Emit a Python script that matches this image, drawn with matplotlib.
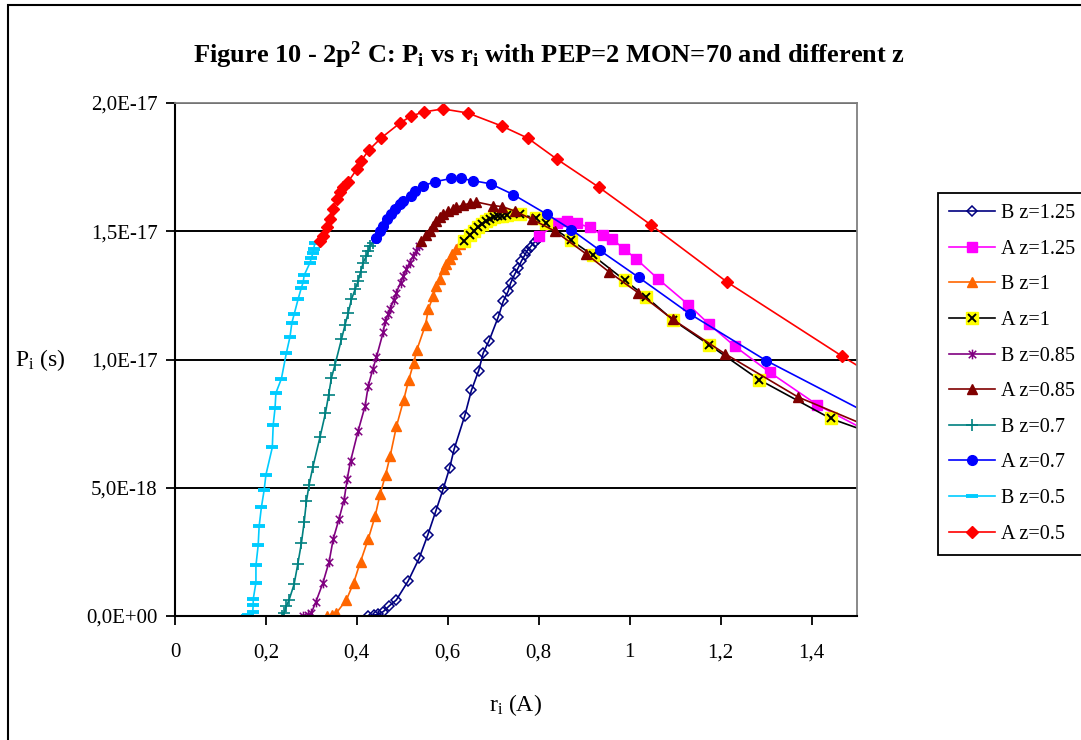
import matplotlib
matplotlib.use("Agg")
import matplotlib.pyplot as plt
from matplotlib.path import Path
from matplotlib.patches import Rectangle
from matplotlib.legend_handler import HandlerTuple

plt.rcParams['font.family'] = 'Liberation Serif'
plt.rcParams['mathtext.fontset'] = 'custom'
plt.rcParams['mathtext.rm'] = 'Liberation Serif'
plt.rcParams['mathtext.it'] = 'Liberation Serif:italic'
plt.rcParams['mathtext.bf'] = 'Liberation Serif:bold'

# P values in units of 1e-18 s, r in A
b125_r = [0.425, 0.437, 0.447, 0.458, 0.471, 0.487, 0.513, 0.537, 0.556, 0.574, 0.590, 0.604, 0.614, 0.637, 0.652,
          0.668, 0.678, 0.691, 0.711, 0.722, 0.733, 0.738, 0.747, 0.755, 0.762, 0.769, 0.774, 0.782, 0.791, 0.798]
b125_p = [0.0, 0.03, 0.07, 0.17, 0.39, 0.63, 1.37, 2.25, 3.16, 4.11, 4.96, 5.77, 6.51, 7.79, 8.80,
          9.57, 10.26, 10.74, 11.66, 12.27, 12.67, 12.97, 13.32, 13.58, 13.84, 14.06, 14.23, 14.40, 14.58, 14.71]

a125_r = [0.801, 0.840, 0.862, 0.884, 0.912, 0.941, 0.962, 0.987, 1.015, 1.062, 1.129, 1.175, 1.231, 1.308, 1.412, 1.62]
a125_p = [14.80, 15.33, 15.39, 15.31, 15.15, 14.84, 14.69, 14.32, 13.91, 13.15, 12.14, 11.37, 10.52, 9.50, 8.24, 6.3]

b1_r = [0.334, 0.345, 0.355, 0.377, 0.393, 0.408, 0.425, 0.440, 0.451, 0.463, 0.473, 0.487, 0.503, 0.514,
        0.525, 0.532, 0.551, 0.557, 0.568, 0.575, 0.582, 0.591, 0.597, 0.604, 0.610, 0.618, 0.626, 0.635]
b1_p = [0.0, 0.02, 0.12, 0.63, 1.30, 2.12, 3.00, 3.88, 4.74, 5.49, 6.22, 7.39, 8.43, 9.20,
        9.87, 10.38, 11.35, 11.95, 12.47, 12.86, 13.12, 13.52, 13.71, 13.91, 14.10, 14.30, 14.49, 14.65]

a1_r = [0.636, 0.648, 0.657, 0.666, 0.675, 0.684, 0.692, 0.701, 0.710, 0.719, 0.730, 0.758, 0.795, 0.817,
        0.872, 0.919, 0.989, 1.037, 1.095, 1.175, 1.284, 1.442, 1.60]
a1_p = [14.62, 14.84, 15.00, 15.16, 15.27, 15.39, 15.47, 15.55, 15.59, 15.61, 15.63, 15.66, 15.51, 15.31,
        14.64, 14.06, 13.09, 12.43, 11.54, 10.57, 9.22, 7.70, 6.7]

b085_r = [0.281, 0.292, 0.300, 0.310, 0.325, 0.339, 0.348, 0.361, 0.372, 0.379, 0.386, 0.403, 0.418, 0.425, 0.435,
          0.443, 0.458, 0.462, 0.469, 0.473, 0.481, 0.487, 0.496, 0.502, 0.509, 0.516, 0.524, 0.530, 0.537]
b085_p = [0.0, 0.02, 0.12, 0.56, 1.27, 2.12, 3.00, 3.80, 4.54, 5.36, 6.03, 7.23, 8.18, 8.97, 9.62,
          10.09, 11.07, 11.50, 11.76, 11.95, 12.32, 12.61, 13.00, 13.25, 13.52, 13.78, 14.04, 14.23, 14.43]

a085_r = [0.542, 0.552, 0.560, 0.568, 0.575, 0.582, 0.590, 0.601, 0.612, 0.619, 0.634, 0.648, 0.663, 0.700,
          0.720, 0.747, 0.785, 0.835, 0.904, 0.955, 1.018, 1.095, 1.209, 1.370, 1.55]
a085_p = [14.62, 14.84, 15.01, 15.21, 15.40, 15.54, 15.66, 15.79, 15.86, 15.93, 16.02, 16.09, 16.14, 16.00,
          15.96, 15.79, 15.47, 15.01, 14.12, 13.41, 12.61, 11.56, 10.23, 8.54, 7.2]

b07_r = [0.235, 0.240, 0.245, 0.251, 0.262, 0.270, 0.278, 0.284, 0.289, 0.295, 0.303, 0.319, 0.331, 0.338,
         0.344, 0.352, 0.366, 0.374, 0.381, 0.388, 0.396, 0.403, 0.408, 0.414, 0.421, 0.425, 0.429, 0.435]
b07_p = [0.0, 0.10, 0.39, 0.63, 1.24, 2.02, 2.84, 3.65, 4.47, 5.12, 5.79, 6.98, 7.92, 8.63,
         9.28, 9.80, 10.78, 11.35, 11.82, 12.34, 12.73, 13.06, 13.41, 13.78, 14.04, 14.23, 14.43, 14.56]

a07_r = [0.442, 0.451, 0.458, 0.467, 0.474, 0.484, 0.495, 0.502, 0.520, 0.527, 0.546, 0.571, 0.608, 0.629,
         0.656, 0.694, 0.744, 0.818, 0.872, 0.934, 1.020, 1.133, 1.300, 1.60]
a07_p = [14.73, 15.01, 15.21, 15.47, 15.66, 15.86, 16.05, 16.18, 16.38, 16.57, 16.77, 16.93, 17.06, 17.06,
         16.97, 16.85, 16.43, 15.66, 15.06, 14.26, 13.20, 11.77, 9.96, 7.2]

b05_r = [0.158, 0.161, 0.171, 0.172, 0.172, 0.178, 0.178, 0.183, 0.185, 0.190, 0.196, 0.200, 0.214, 0.216, 0.220,
         0.222, 0.234, 0.245, 0.253, 0.257, 0.262, 0.271, 0.278, 0.282, 0.284, 0.297, 0.300, 0.304, 0.305, 0.308]
b05_p = [0.0, 0.04, 0.17, 0.43, 0.65, 1.30, 1.97, 2.77, 3.49, 4.24, 4.90, 5.51, 6.57, 7.45, 8.10,
         8.70, 9.25, 10.26, 10.89, 11.43, 11.76, 12.37, 12.80, 13.02, 13.28, 13.78, 13.97, 14.17, 14.32, 14.56]

a05_r = [0.319, 0.325, 0.334, 0.341, 0.347, 0.356, 0.363, 0.369, 0.380, 0.400, 0.409, 0.426, 0.453,
         0.495, 0.519, 0.547, 0.589, 0.644, 0.719, 0.776, 0.840, 0.932, 1.048, 1.215, 1.468, 1.70]
a05_p = [14.61, 14.80, 15.16, 15.47, 15.86, 16.25, 16.52, 16.72, 16.91, 17.42, 17.73, 18.16, 18.63,
         19.22, 19.49, 19.65, 19.77, 19.61, 19.10, 18.63, 17.81, 16.72, 15.23, 13.01, 10.12, 7.6]

x_ticks = [0, 0.2, 0.4, 0.6, 0.8, 1.0, 1.2, 1.4]
x_tick_labels = ['0', '0,2', '0,4', '0,6', '0,8', '1', '1,2', '1,4']
y_ticks = [0, 5, 10, 15, 20]
y_tick_labels = ['0,0E+00', '5,0E-18', '1,0E-17', '1,5E-17', '2,0E-17']

# excel style star marker (x with a vertical bar)
star = Path([(-1, -1), (1, 1), (-1, 1), (1, -1), (0, -1.3), (0, 1.3)],
            [Path.MOVETO, Path.LINETO, Path.MOVETO, Path.LINETO, Path.MOVETO, Path.LINETO])

W, H = 1081, 740
fig = plt.figure(figsize=(W / 100, H / 100), dpi=100)
ax = fig.add_axes([175 / W, 124 / H, 682 / W, 513 / H])

lw = 1.2
h1, = ax.plot(b125_r, b125_p, color='#000080', lw=lw, marker='D', ms=5, mfc='none', mew=1.1)
h2, = ax.plot(a125_r, a125_p, color='#FF00FF', lw=lw, marker='s', ms=6.5)
h3, = ax.plot(b1_r, b1_p, color='#FF6600', lw=lw, marker='^', ms=7.5)
h4a, = ax.plot(a1_r, a1_p, color='black', lw=lw, marker='s', ms=9, mfc='#FFFF00', mec='#FFFF00')
h4b, = ax.plot(a1_r, a1_p, ls='none', marker='x', ms=6, mec='black', mew=1.4)
h5, = ax.plot(b085_r, b085_p, color='#800080', lw=lw, marker=star, ms=7, mew=1.1)
h6, = ax.plot(a085_r, a085_p, color='#800000', lw=lw, marker='^', ms=7.5)
h7, = ax.plot(b07_r, b07_p, color='#008080', lw=lw, marker='+', ms=8, mew=1.2)
h8, = ax.plot(a07_r, a07_p, color='#0000FF', lw=lw, marker='o', ms=7)
h9, = ax.plot(b05_r, b05_p, color='#00CCFF', lw=lw, marker='_', ms=9, mew=2.8)
h10, = ax.plot(a05_r, a05_p, color='#FF0000', lw=lw, marker='D', ms=6)

ax.set_xlim(0, 1.5)
ax.set_ylim(0, 20)
ax.set_xticks(x_ticks)
ax.set_xticklabels(x_tick_labels)
ax.set_yticks(y_ticks)
ax.set_yticklabels(y_tick_labels)
ax.tick_params(direction='out', length=6.5, width=1.3, labelsize=15, colors='black')
ax.tick_params(axis='x', pad=13)
ax.tick_params(axis='y', pad=6)

ax.set_axisbelow(True)
ax.yaxis.grid(True, color='black', lw=1.4)
for s in ['left', 'bottom']:
    ax.spines[s].set_color('black')
    ax.spines[s].set_linewidth(1.5)
for s in ['top', 'right']:
    ax.spines[s].set_color('#808080')
    ax.spines[s].set_linewidth(1.3)

fig.text(549 / W, 1 - 55 / H,
         r'Figure 10 - 2p$^{\mathbf{2}}$ C: P$_{\mathbf{i}}$ vs r$_{\mathbf{i}}$ with PEP=2 MON=70 and different z',
         ha='center', va='center', fontsize=19, fontweight='bold')
fig.text(515 / W, 1 - 705 / H, r'r$_{\mathrm{i}}$ (A)', ha='center', va='center', fontsize=17)
fig.text(40 / W, 1 - 360 / H, r'P$_{\mathrm{i}}$ (s)', ha='center', va='center', fontsize=17)

handles = [h1, h2, h3, (h4a, h4b), h5, h6, h7, h8, h9, h10]
labels = ['B z=1.25', 'A z=1.25', 'B z=1', 'A z=1', 'B z=0.85', 'A z=0.85', 'B z=0.7', 'A z=0.7', 'B z=0.5', 'A z=0.5']
leg = fig.legend(handles, labels, loc='upper left', bbox_to_anchor=(938 / W, 1 - 193 / H),
                 fontsize=14.5, frameon=True, fancybox=False, edgecolor='black', framealpha=1,
                 handlelength=2.3, handletextpad=0.3, labelspacing=0.82, borderpad=0.55, borderaxespad=0,
                 handler_map={tuple: HandlerTuple(ndivide=1)})
leg.get_frame().set_linewidth(1.3)

# outer chart border
fig.add_artist(Rectangle((8 / W, -0.1), 1.2, 1.1 - 5 / H, transform=fig.transFigure,
                         fill=False, edgecolor='black', lw=1.5))

fig.savefig('out.png', dpi=100)
